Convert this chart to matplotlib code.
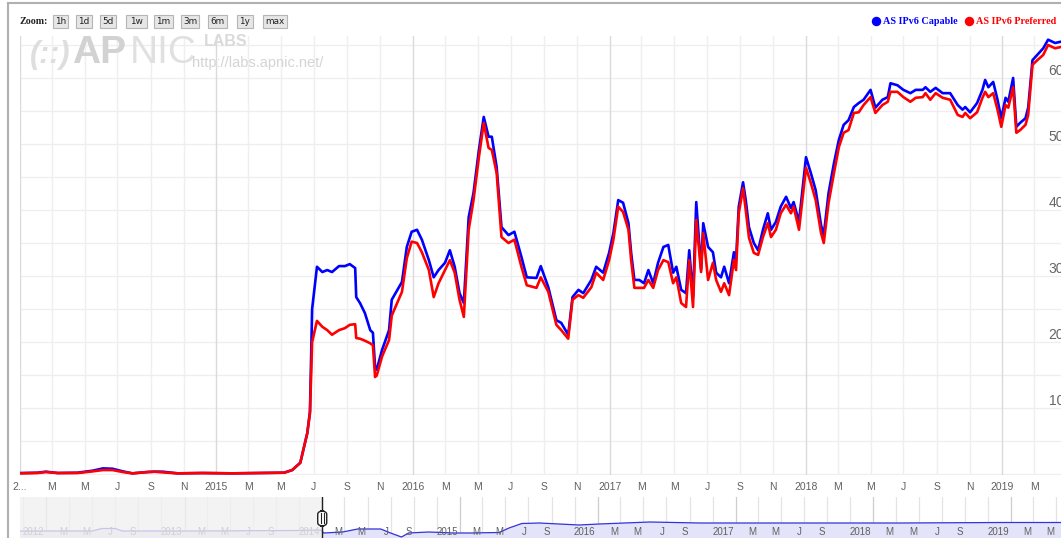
import pandas as pd
import matplotlib
matplotlib.use('Agg')
import matplotlib.pyplot as plt
import matplotlib.dates as mdates
from matplotlib.patches import Rectangle, FancyBboxPatch
from matplotlib.lines import Line2D
from matplotlib import transforms

#--- DATA ---------------------------------------------------------------------+

dates = ['2014-01-03', '2014-02-03', '2014-02-18', '2014-03-12', '2014-04-18', '2014-05-16',
         '2014-06-04', '2014-06-22', '2014-07-11', '2014-07-29', '2014-08-26', '2014-09-08',
         '2014-09-23', '2014-10-21', '2014-12-06', '2015-01-31', '2015-03-27', '2015-05-07',
         '2015-05-22', '2015-06-06', '2015-06-19', '2015-06-24', '2015-06-28', '2015-07-07',
         '2015-07-17', '2015-07-26', '2015-08-04', '2015-08-17', '2015-08-28', '2015-09-06',
         '2015-09-16', '2015-09-18', '2015-09-25', '2015-10-04', '2015-10-14', '2015-10-19',
         '2015-10-23', '2015-10-26', '2015-11-05', '2015-11-18', '2015-11-23', '2015-12-12',
         '2015-12-21', '2015-12-30', '2016-01-09', '2016-01-18', '2016-01-31', '2016-02-09',
         '2016-02-18', '2016-03-01', '2016-03-10', '2016-03-19', '2016-03-28', '2016-04-05',
         '2016-04-14', '2016-04-23', '2016-05-03', '2016-05-12', '2016-05-21', '2016-05-27',
         '2016-06-05', '2016-06-14', '2016-06-27', '2016-07-08', '2016-07-21', '2016-07-31',
         '2016-08-18', '2016-08-26', '2016-09-09', '2016-09-24', '2016-10-03', '2016-10-16',
         '2016-10-24', '2016-11-04', '2016-11-13', '2016-11-28', '2016-12-07', '2016-12-20',
         '2016-12-31', '2017-01-08', '2017-01-17', '2017-01-26', '2017-02-05', '2017-02-10',
         '2017-02-16', '2017-02-25', '2017-03-06', '2017-03-14', '2017-03-23', '2017-04-01',
         '2017-04-11', '2017-04-20', '2017-04-29', '2017-05-05', '2017-05-14', '2017-05-23',
         '2017-05-29', '2017-06-05', '2017-06-11', '2017-06-20', '2017-06-24', '2017-07-03',
         '2017-07-12', '2017-07-18', '2017-07-27', '2017-08-02', '2017-08-11', '2017-08-20',
         '2017-08-24', '2017-08-29', '2017-09-06', '2017-09-11', '2017-09-17', '2017-09-26',
         '2017-10-04', '2017-10-13', '2017-10-22', '2017-10-28', '2017-11-06', '2017-11-15',
         '2017-11-25', '2017-12-04', '2017-12-09', '2017-12-19', '2018-01-01', '2018-01-10',
         '2018-01-19', '2018-01-29', '2018-02-03', '2018-02-12', '2018-02-22', '2018-03-03',
         '2018-03-12', '2018-03-21', '2018-03-31', '2018-04-09', '2018-04-18', '2018-05-01',
         '2018-05-10', '2018-05-23', '2018-06-02', '2018-06-07', '2018-06-20', '2018-07-01',
         '2018-07-14', '2018-07-24', '2018-08-06', '2018-08-11', '2018-08-20', '2018-08-30',
         '2018-09-12', '2018-09-26', '2018-10-10', '2018-10-19', '2018-10-24', '2018-11-02',
         '2018-11-15', '2018-11-25', '2018-11-30', '2018-12-06', '2018-12-15', '2018-12-23',
         '2018-12-30', '2019-01-07', '2019-01-12', '2019-01-21', '2019-01-27', '2019-02-03',
         '2019-02-13', '2019-02-18', '2019-02-26', '2019-03-07', '2019-03-18', '2019-03-27',
         '2019-04-09', '2019-04-20']

capable = [0.15, 0.2, 0.35, 0.15, 0.2, 0.5, 0.85, 0.8, 0.4, 0.1, 0.3, 0.35,
           0.35, 0.1, 0.15, 0.1, 0.15, 0.2, 0.6, 1.7, 6.2, 9.5, 25.0, 31.4,
           30.6, 30.9, 30.6, 31.5, 31.5, 31.8, 31.2, 26.8, 25.9, 24.4, 21.8, 21.4,
           16.2, 15.8, 18.8, 21.8, 26.4, 29.1, 34.4, 36.7, 37.0, 35.5, 32.4, 29.8,
           30.9, 32.0, 33.9, 31.4, 27.4, 25.9, 38.9, 42.6, 49.1, 54.1, 51.1, 51.1,
           46.5, 37.4, 36.2, 36.7, 32.9, 29.8, 29.7, 31.5, 28.3, 23.3, 22.9, 21.1,
           26.8, 27.9, 27.4, 29.4, 31.4, 30.5, 33.5, 36.5, 41.5, 41.1, 38.0, 33.5,
           29.4, 29.4, 28.9, 30.9, 28.9, 32.0, 34.4, 34.7, 30.5, 31.4, 27.9, 27.4,
           33.9, 26.8, 41.2, 31.0, 38.0, 34.4, 33.6, 30.5, 29.8, 31.4, 28.9, 33.6,
           32.4, 40.5, 44.2, 41.5, 37.4, 35.0, 33.9, 37.0, 39.5, 37.0, 38.2, 40.5,
           42.0, 40.3, 41.2, 38.2, 48.0, 45.6, 43.0, 37.7, 36.2, 42.6, 47.1, 50.6,
           52.9, 53.6, 55.6, 56.2, 56.7, 58.2, 55.5, 56.7, 57.1, 59.2, 58.9, 58.2,
           57.7, 58.2, 58.2, 58.6, 57.9, 58.5, 57.7, 57.7, 55.9, 55.2, 55.6, 54.8,
           56.2, 58.2, 59.7, 58.6, 59.4, 56.7, 53.9, 57.0, 56.4, 60.0, 52.6, 53.2,
           53.9, 55.5, 62.7, 63.5, 64.5, 65.8, 65.3, 65.5]

preferred = [0.1, 0.15, 0.3, 0.15, 0.15, 0.4, 0.6, 0.6, 0.3, 0.1, 0.3, 0.35,
             0.25, 0.1, 0.15, 0.1, 0.15, 0.2, 0.6, 1.7, 6.2, 9.2, 20.0, 23.2,
             22.3, 21.8, 21.1, 21.8, 22.1, 22.6, 22.7, 20.6, 20.5, 20.2, 19.8, 19.5,
             14.7, 14.9, 17.8, 20.3, 24.0, 27.6, 32.7, 35.2, 35.0, 33.6, 30.9, 26.8,
             28.9, 30.9, 32.4, 30.5, 26.4, 23.8, 37.0, 41.5, 48.0, 53.2, 49.4, 49.1,
             45.6, 35.9, 35.0, 35.5, 31.4, 28.6, 28.2, 29.8, 27.6, 22.6, 21.8, 20.5,
             26.4, 27.1, 26.7, 28.3, 30.5, 29.4, 32.4, 35.5, 40.5, 39.7, 37.0, 32.4,
             28.2, 28.2, 28.2, 29.4, 28.2, 30.9, 32.4, 32.1, 28.9, 29.8, 25.9, 25.3,
             32.4, 25.3, 38.5, 30.6, 36.5, 29.4, 32.0, 29.4, 27.6, 28.9, 27.1, 32.4,
             30.9, 39.5, 43.3, 40.0, 35.8, 33.5, 33.2, 35.9, 38.0, 35.9, 37.0, 39.5,
             40.8, 39.5, 40.5, 37.0, 46.4, 44.1, 41.5, 36.5, 35.0, 41.1, 45.6, 49.5,
             51.7, 52.1, 54.7, 54.8, 55.9, 57.1, 54.7, 55.9, 56.4, 57.9, 57.9, 57.1,
             56.4, 57.0, 57.1, 57.7, 56.7, 57.7, 57.0, 56.7, 54.4, 54.1, 54.7, 53.9,
             54.8, 57.0, 57.9, 57.1, 57.7, 55.2, 52.6, 55.9, 55.5, 58.6, 51.7, 52.1,
             52.9, 54.4, 62.0, 62.7, 63.5, 65.0, 64.5, 64.7]

# navigator (overview) series, arbitrary units as drawn in the overview strip
nav_dates = ['2011-10-01', '2012-05-01', '2012-05-27', '2012-07-01', '2012-07-20', '2013-02-05',
             '2013-10-28', '2013-12-28', '2014-01-05', '2014-02-24', '2014-04-05', '2014-06-05',
             '2014-07-01', '2014-07-30', '2014-08-18', '2014-10-10', '2014-12-16', '2015-01-26',
             '2015-04-15', '2015-05-11', '2015-06-14', '2015-07-30', '2015-11-13', '2016-01-05',
             '2016-05-18', '2016-09-28', '2017-06-20', '2018-03-14', '2018-12-05', '2019-05-19']
nav_level = [14, 14, 16.5, 16.5, 14, 14, 14.5, 15, 12, 13, 16, 16,
             12, 8, 12, 13, 12, 12, 12.5, 17, 21.5, 22, 20, 21,
             23, 22, 22, 22, 22.5, 22.5]

series_names = ['AS IPv6 Capable', 'AS IPv6 Preferred']
series_colors = ['#0000ff', '#ff0000']
zoom_buttons = ['1h', '1d', '5d', '1w', '1m', '3m', '6m', '1y', 'max']
month_letters = {3: 'M', 5: 'M', 7: 'J', 9: 'S', 11: 'N'}
y_ticks = [10, 20, 30, 40, 50, 60]

#--- LAYOUT (pixels) ----------------------------------------------------------+

W, H = 1061, 538

def fx(x):
    return x / W

def fy(y):
    return 1 - y / H

fig = plt.figure(figsize=(W / 100, H / 100), dpi=100)
fig.patch.set_facecolor('white')

#--- MAIN CHART ---------------------------------------------------------------+

d = pd.to_datetime(dates)
main_start = pd.Timestamp('2014-01-01')
ax = fig.add_axes([fx(20), fy(475), 1041 / W, 439 / H])
ax.set_xlim(main_start, pd.Timestamp('2019-04-20'))
ax.set_ylim(-0.15, 66.36)
ax.set_axis_off()

for v in range(0, 70, 5):
    ax.axhline(v, color='#ededf3', lw=0.9, zorder=0)

ticks = pd.date_range('2014-01-01', '2019-05-01', freq='2MS')
for t in ticks:
    ax.axvline(t, color='#dadada' if t.month == 1 else '#efefef', lw=1.0, zorder=0)

ax.plot(d, capable, color=series_colors[0], lw=1.9, zorder=3)
ax.plot(d, preferred, color=series_colors[1], lw=1.9, zorder=4)

xlab = transforms.blended_transform_factory(ax.transData, ax.transAxes)
for t in ticks:
    if t.month == 1:
        txt = str(t.year) if t.year > 2014 else '2...'
    else:
        txt = month_letters[t.month]
    ax.text(t, -12 / 439, txt, transform=xlab, ha='center', va='center',
            fontsize=7.5, color='#606060', family='Liberation Sans', clip_on=False)

ylab = transforms.offset_copy(transforms.blended_transform_factory(ax.transAxes, ax.transData),
                              fig=fig, y=3, units='dots')
for v in y_ticks:
    ax.text(1044 / 1041, v, str(v), transform=ylab, ha='right', va='baseline',
            fontsize=10, color='#666666', family='Liberation Sans', clip_on=False)

# watermark
fig.text(fx(30), fy(63), '(::)', fontsize=22, color='#dedede', family='Liberation Sans',
         weight='bold', style='italic', va='baseline')
fig.text(fx(72), fy(63), 'AP', fontsize=28, color='#d2d2d2', family='Liberation Sans',
         weight='bold', va='baseline')
fig.text(fx(130), fy(63), 'NIC', fontsize=28, color='#e0e0e0', family='Liberation Sans',
         va='baseline')
fig.text(fx(204), fy(46), 'LABS', fontsize=11.5, color='#dadada', family='Liberation Sans',
         weight='bold', va='baseline')
fig.text(fx(192), fy(67), 'http://labs.apnic.net/', fontsize=10.5, color='#d4d4d4',
         family='Liberation Sans', va='baseline')

#--- LEGEND / ZOOM BAR --------------------------------------------------------+

for name, col, mx in zip(series_names, series_colors, [876, 969]):
    fig.add_artist(Line2D([fx(mx)], [fy(21)], marker='o', ms=5.8, color=col,
                          transform=fig.transFigure))
    fig.text(fx(mx + 7), fy(21), name, fontsize=7.3, color=col, family='Liberation Serif',
             weight='bold', va='center', ha='left')

fig.text(fx(20), fy(21), 'Zoom:', fontsize=7.2, color='#222222', family='Liberation Serif',
         weight='bold', va='center', ha='left')
button_x = [(53, 68), (76, 92), (100, 116), (126, 147), (154, 173), (181, 199),
            (208, 227), (237, 253), (263, 287)]
for lab, (x0, x1) in zip(zoom_buttons, button_x):
    fig.add_artist(Rectangle((fx(x0), fy(28)), (x1 - x0) / W, 13 / H, transform=fig.transFigure,
                             facecolor='#e6e6e6', edgecolor='#b5b5b5', lw=0.8))
    fig.text(fx((x0 + x1) / 2), fy(21.5), lab, fontsize=6.4, color='#222222',
             family='DejaVu Sans', ha='center', va='center')

#--- NAVIGATOR ----------------------------------------------------------------+

nav = fig.add_axes([fx(20), fy(545), 1041 / W, 48 / H])
nav_start = pd.Timestamp('2011-10-23')
nav.set_xlim(nav_start, pd.Timestamp('2019-05-13'))
nav.set_ylim(0, 48)
nav.set_axis_off()

nticks = pd.date_range('2011-11-01', '2019-05-01', freq='2MS')
for t in nticks:
    nav.axvline(t, color='#cdcdcd' if t.month == 1 else '#e4e4e4', lw=0.9, zorder=0)

nd = pd.to_datetime(nav_dates)
nav.fill_between(nd, 0, nav_level, color='#e3e3f9', zorder=1)
nav.plot(nd, nav_level, color='#3434dc', lw=0.9, zorder=2)

nlab = transforms.offset_copy(transforms.blended_transform_factory(nav.transData, nav.transAxes),
                              fig=fig, x=-2, units='dots')
for t in nticks:
    if t.month == 11:
        continue
    txt = str(t.year) if t.month == 1 else month_letters[t.month]
    nav.text(t, 0.27, txt, transform=nlab, ha='right', va='center', fontsize=7,
             color='#606060', family='Liberation Sans', zorder=3)

# shaded part left of the selected range, and the handle
nav.add_patch(Rectangle((mdates.date2num(nav_start), 0),
                        mdates.date2num(main_start) - mdates.date2num(nav_start), 48,
                        facecolor='#f0f0f0', alpha=0.78, edgecolor='none', zorder=6))
nav.axvline(main_start, color='#222222', lw=1, zorder=7)

fig.canvas.draw()
hx = nav.transData.transform((mdates.date2num(main_start), 0))[0]
fig.add_artist(FancyBboxPatch((fx(hx - 4.5), fy(526)), 9 / W, 15 / H, transform=fig.transFigure,
                              boxstyle='round,pad=0,rounding_size=0.006', facecolor='white',
                              edgecolor='#222222', lw=1, zorder=8))
for dx in (-1.5, 1.5):
    fig.add_artist(Line2D([fx(hx + dx)] * 2, [fy(513), fy(523)], color='#222222', lw=0.8,
                          transform=fig.transFigure, zorder=9))

#--- FRAME --------------------------------------------------------------------+

fig.add_artist(Line2D([fx(8), fx(1061)], [fy(3), fy(3)], color='#b0b0b0', lw=1.5,
                      transform=fig.transFigure))
fig.add_artist(Line2D([fx(8), fx(8)], [fy(3), fy(538)], color='#b0b0b0', lw=1.5,
                      transform=fig.transFigure))

fig.savefig('out.png', dpi=100)
